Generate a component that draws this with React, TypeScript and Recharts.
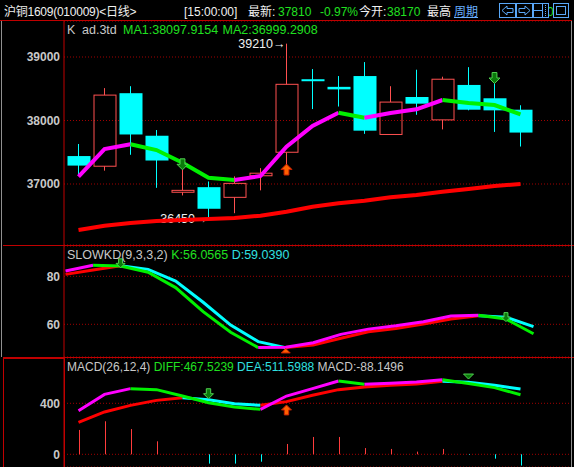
import React from 'react';
import { Bar, CartesianGrid, Cell, ComposedChart, Line, ReferenceDot, XAxis, YAxis } from 'recharts';

// 沪铜1609 daily bars
const open = [37440, 37280, 38430, 37760, 36870, 36950, 36790, 37130, 37500, 38650, 38530, 38700, 37780, 38370, 38010, 38560, 38350, 38170];
const close = [37290, 38400, 37780, 37370, 36900, 36610, 37010, 37170, 38570, 38630, 38490, 37840, 38290, 38265, 38650, 38170, 38160, 37810];
const high = [37630, 38510, 38540, 37850, 37230, 37040, 37120, 37250, 39210, 38810, 38700, 38920, 38540, 38800, 38690, 38840, 38610, 38240];
const low = [37150, 37210, 37460, 36940, 36820, 36450, 36540, 36900, 37300, 38180, 38220, 37790, 37780, 38090, 37860, 38160, 37820, 37590];

// moving averages
const ma1 = [37115, 37551, 37625, 37535, 37335, 37099, 37063, 37126, 37588, 37913, 38123, 38044, 38118, 38176, 38323, 38276, 38244, 38097.9154];
const ma2 = [36275, 36343, 36386, 36417, 36433, 36449, 36464, 36501, 36564, 36643, 36696, 36737, 36790, 36827, 36878, 36921, 36968, 36999.2908];

// SLOWKD(9,3,3,2)
const kLine = [82.2, 84.6, 84.3, 81.7, 75.3, 65.3, 56.7, 50.3, 50.4, 52.3, 55.8, 58.0, 59.4, 61.1, 63.5, 63.8, 62.2, 56.0565];
const dLine = [80.8, 82.6, 84.4, 82.9, 78.0, 69.2, 59.7, 52.8, 50.3, 51.4, 54.2, 56.9, 58.3, 60.1, 62.2, 63.6, 63.0, 59.039];

// MACD(26,12,4)
const diff = [342, 470, 515, 507, 457, 405, 371, 353, 457, 515, 575, 549, 557, 567, 585, 555, 523, 467.5239];
const dea = [251, 332, 384, 423, 444, 428, 397, 384, 413, 463, 507, 528, 541, 551, 572, 565, 541, 511.5988];
const macd = [191, 259, 198, 102, 0, -73, -73, -58, 81, 136, 136, 49, 42, 21, 42, -5, -34, -88.1496];

const priceTicks = [37000, 38000, 39000];
const kdTicks = [60, 80];
const macdTicks = [0, 400];

// period extremes marked on the price panel
const extremes = [
  { i: 5, side: 'low' },
  { i: 8, side: 'high' },
];

// trade signals: bar index, value, direction, mark
const priceSignals = [
  { i: 4, v: 37310, dir: 'down', kind: 'arrow' },
  { i: 8, v: 37228, dir: 'up', kind: 'arrow' },
  { i: 16, v: 38669, dir: 'down', kind: 'arrow' },
];
const kdSignals = [
  { i: 2, v: 85.4, dir: 'down', kind: 'arrow' },
  { i: 8, v: 49.0, dir: 'up', kind: 'tri' },
  { i: 16, v: 63.0, dir: 'down', kind: 'arrow' },
];
const macdSignals = [
  { i: 5, v: 475, dir: 'down', kind: 'arrow' },
  { i: 8, v: 348, dir: 'up', kind: 'arrow' },
  { i: 15, v: 610, dir: 'down', kind: 'tri' },
];

const FONT = "'Liberation Sans', 'Noto Sans CJK SC', sans-serif";
const FRAME = '#c00000';
const GRID = '#a00000';
const MAGENTA = '#ff00ff';
const GREEN = '#00f000';
const CYAN = '#00ffff';
const RED = '#ff0000';
const CANDLE_RED = '#ff5050';
const TEXT = '#c8c8c8';
const TXT_GREEN = '#20e020';
const TXT_CYAN = '#30e0e0';

type Run = { key: string; color: string };

// split a series into rising / falling runs so each run gets its own colour
function splitByTrend(rows: any[], name: string, values: number[], up: string, down: string): Run[] {
  const runs: Run[] = [];
  let start = 0;
  while (start < values.length - 1) {
    const rising = values[start + 1] >= values[start];
    let end = start + 1;
    while (end < values.length - 1 && (values[end + 1] >= values[end]) === rising) end++;
    const key = `${name}${runs.length}`;
    for (let j = start; j <= end; j++) rows[j][key] = values[j];
    runs.push({ key, color: rising ? up : down });
    start = end;
  }
  return runs;
}

const rows: any[] = open.map((o, i) => ({
  i,
  range: [low[i], high[i]],
  open: o,
  close: close[i],
  macd: macd[i],
  mark: extremes.find((e) => e.i === i)?.side,
}));

const ma1Runs = splitByTrend(rows, 'ma1_', ma1, MAGENTA, GREEN);
const ma2Runs = splitByTrend(rows, 'ma2_', ma2, RED, GREEN);
const kRuns = splitByTrend(rows, 'k_', kLine, MAGENTA, GREEN);
const dRuns = splitByTrend(rows, 'd_', dLine, RED, CYAN);
const diffRuns = splitByTrend(rows, 'diff_', diff, MAGENTA, GREEN);
const deaRuns = splitByTrend(rows, 'dea_', dea, RED, CYAN);

function Candle(props: any) {
  const { x, y, width, height, payload } = props;
  const [lo, hi] = payload.range;
  const k = hi === lo ? 0 : height / (hi - lo);
  const yOf = (p: number) => y + (hi - p) * k;
  const cx = Math.round(x + width / 2) - 0.5;
  const top = yOf(Math.max(payload.open, payload.close));
  const bot = yOf(Math.min(payload.open, payload.close));
  let label = null;
  if (payload.mark) {
    const v = payload.mark === 'high' ? hi : lo;
    label = (
      <text x={cx - 1} y={yOf(v)} dy="0.35em" textAnchor="end" fill="#f0f0f0" fontSize={12.5} fontFamily={FONT}>
        {`${v}→`}
      </text>
    );
  }
  if (payload.close >= payload.open) {
    return (
      <g>
        <line x1={cx} x2={cx} y1={y} y2={top} stroke={CANDLE_RED} />
        <line x1={cx} x2={cx} y1={bot} y2={y + height} stroke={CANDLE_RED} />
        <rect x={x + 0.5} y={top} width={width - 1} height={Math.max(bot - top, 1)} fill="none" stroke={CANDLE_RED} />
        {label}
      </g>
    );
  }
  const h = Math.max(bot - top, 2);
  return (
    <g>
      <line x1={cx} x2={cx} y1={y} y2={y + height} stroke={CYAN} />
      <rect x={x} y={top} width={width} height={h} fill={CYAN} />
      {label}
    </g>
  );
}

// 1px histogram stick, snapped to the pixel grid
function MacdStick(props: any) {
  const { x, y, width, height, fill } = props;
  if (!height) return <g />;
  const x0 = Math.round(x + width / 2 - 0.5);
  const top = Math.min(y, y + height);
  return <rect x={x0} y={top} width={1} height={Math.abs(height)} fill={fill} />;
}

function SignalMark({ cx, cy, dir, kind, size }: any) {
  const h = size / 2;
  const buy = dir === 'up';
  const fill = buy ? '#ff6000' : '#0a7a0a';
  const edge = buy ? '#c82000' : '#50d050';
  const sgn = buy ? -1 : 1;
  if (kind === 'tri') {
    const pts = [[cx - h, cy - sgn * h * 0.5], [cx + h, cy - sgn * h * 0.5], [cx, cy + sgn * h * 0.5]];
    return <polygon points={pts.map((p) => p.join(',')).join(' ')} fill={fill} stroke={edge} />;
  }
  const s = size * 0.22;
  const pts = [
    [cx - s, cy - sgn * h],
    [cx + s, cy - sgn * h],
    [cx + s, cy],
    [cx + h, cy],
    [cx, cy + sgn * h],
    [cx - h, cy],
    [cx - s, cy],
  ];
  return <polygon points={pts.map((p) => p.join(',')).join(' ')} fill={fill} stroke={edge} />;
}

function runLines(runs: Run[], width: number) {
  return runs.map((r) => (
    <Line
      key={r.key}
      dataKey={r.key}
      type="linear"
      stroke={r.color}
      strokeWidth={width}
      dot={false}
      activeDot={false}
      isAnimationActive={false}
    />
  ));
}

function signalDots(signals: any[], size: number) {
  return signals.map((s) => (
    <ReferenceDot
      key={`${s.i}-${s.dir}`}
      x={s.i}
      y={s.v}
      r={5}
      shape={(p: any) => <SignalMark cx={p.cx} cy={p.cy} dir={s.dir} kind={s.kind} size={size} />}
    />
  ));
}

const tickStyle = { fill: TEXT, fontSize: 12, fontWeight: 'bold', fontFamily: FONT };

function yAxis(domain: number[], ticks: number[]) {
  return (
    <YAxis
      width={64}
      domain={domain}
      allowDataOverflow
      ticks={ticks}
      interval={0}
      tickLine={false}
      tickSize={0}
      tickMargin={4}
      axisLine={{ stroke: FRAME }}
      tick={tickStyle}
    />
  );
}

const margin = { top: 0, right: 3, bottom: 0, left: 0 };
const xPad = { left: 1.5, right: 37.5 };

const abs = (left: number, top: number, extra: any = {}) => ({ position: 'absolute' as const, left, top, ...extra });

export default function App() {
  const head = { fontSize: 12, lineHeight: '18px', whiteSpace: 'pre' as const };
  const legend = { fontSize: 12.5, lineHeight: '15px', whiteSpace: 'pre' as const };
  return (
    <div style={{ position: 'absolute', left: 0, top: 0, width: 574, height: 467, background: '#000', overflow: 'hidden', fontFamily: FONT, color: '#f0f0f0' }}>
      {/* title bar */}
      <div style={abs(4, 3, { ...head, letterSpacing: '-0.25px' })}>沪铜1609(010009)&lt;日线&gt;</div>
      <div style={abs(184, 3, head)}>[15:00:00]</div>
      <div style={abs(248, 3, head)}>最新:</div>
      <div style={abs(278, 3, { ...head, color: TXT_GREEN })}>37810</div>
      <div style={abs(320, 3, { ...head, color: TXT_GREEN })}>-0.97%</div>
      <div style={abs(359, 3, head)}>今开:</div>
      <div style={abs(387, 3, { ...head, color: TXT_GREEN })}>38170</div>
      <div style={abs(427, 3, head)}>最高</div>
      <div style={abs(454, 3, { ...head, color: '#6ab0ff', textDecoration: 'underline' })}>周期</div>
      <div style={abs(547, 3, { ...head, color: TXT_GREEN })}>0</div>
      <svg style={abs(498, 2)} width={74} height={18}>
        <g fill="#000" stroke="#5aa8f8">
          <rect x={1.5} y={1.5} width={16} height={14} />
          <polygon points="4,8.5 9,4 9,6.5 15,6.5 15,10.5 9,10.5 9,13" />
          <rect x={18.5} y={1.5} width={16} height={14} />
          <polygon points="32,8.5 27,4 27,6.5 21,6.5 21,10.5 27,10.5 27,13" />
          <rect x={35.5} y={1.5} width={15} height={14} />
          <line x1={44.5} x2={44.5} y1={2} y2={15} />
          <line x1={36} x2={44.5} y1={8.5} y2={8.5} />
          <line x1={47.5} x2={47.5} y1={3} y2={14} strokeDasharray="1 1" />
          <rect x={55.5} y={1.5} width={15} height={14} />
          <rect x={58.5} y={4.5} width={9} height={8} />
        </g>
      </svg>

      {/* frame */}
      <div style={abs(0, 20, { width: 572, height: 1, background: FRAME })} />
      <div style={abs(3, 245, { width: 571, height: 1, background: FRAME })} />
      <div style={abs(3, 357, { width: 571, height: 1, background: FRAME })} />
      <div style={abs(1, 21, { width: 1, height: 336, background: '#909090' })} />
      <div style={abs(571, 21, { width: 1, height: 446, background: '#909090' })} />
      <div style={abs(3, 358, { width: 60, height: 120, border: `1px solid ${FRAME}` })} />

      {/* price panel */}
      <div style={abs(0, 21)}>
        <ComposedChart width={574} height={224} data={rows} margin={margin}>
          <CartesianGrid vertical={false} stroke={GRID} strokeDasharray="1 2" />
          <XAxis dataKey="i" type="category" hide padding={xPad} />
          {yAxis([36039.4, 39567], priceTicks)}
          <Bar dataKey="range" barSize={23} shape={Candle} isAnimationActive={false} />
          {runLines(ma2Runs, 4)}
          {runLines(ma1Runs, 4)}
          {signalDots(priceSignals, 11)}
        </ComposedChart>
      </div>
      <div style={abs(67, 23, { ...legend, color: TEXT })}>K</div>
      <div style={abs(82, 23, { ...legend, color: TEXT })}>ad.3td</div>
      <div style={abs(123, 23, { ...legend, color: TXT_GREEN })}>MA1:38097.9154</div>
      <div style={abs(222.5, 23, { ...legend, color: TXT_GREEN })}>MA2:36999.2908</div>

      {/* SLOWKD panel */}
      <div style={abs(0, 246)}>
        <ComposedChart width={574} height={111} data={rows} margin={margin}>
          <CartesianGrid vertical={false} stroke={GRID} strokeDasharray="1 2" />
          <XAxis dataKey="i" type="category" hide padding={xPad} />
          {yAxis([46.38, 92.63], kdTicks)}
          {signalDots(kdSignals.filter((s) => s.kind === 'tri'), 9)}
          {runLines(dRuns, 3)}
          {runLines(kRuns, 3)}
          {signalDots(kdSignals.filter((s) => s.kind !== 'tri'), 9)}
        </ComposedChart>
      </div>
      <div style={abs(67, 248, legend)}>
        <span style={{ color: TEXT }}>SLOWKD(9,3,3,2) </span>
        <span style={{ color: TXT_GREEN }}>K:56.0565 </span>
        <span style={{ color: TXT_CYAN }}>D:59.0390</span>
      </div>

      {/* MACD panel */}
      <div style={abs(0, 358)}>
        <ComposedChart width={574} height={109} data={rows} margin={margin}>
          <CartesianGrid vertical={false} stroke={GRID} strokeDasharray="1 2" />
          <XAxis dataKey="i" type="category" hide padding={xPad} />
          {yAxis([-99.6, 755.3], macdTicks)}
          <Bar dataKey="macd" barSize={1} shape={MacdStick} isAnimationActive={false}>
            {macd.map((v, i) => (
              <Cell key={i} fill={v >= 0 ? '#ff3c3c' : CYAN} />
            ))}
          </Bar>
          {runLines(deaRuns, 3)}
          {runLines(diffRuns, 3)}
          {signalDots(macdSignals, 10)}
        </ComposedChart>
      </div>
      <div style={abs(67, 359.5, { ...legend, fontSize: 12 })}>
        <span style={{ color: TEXT }}>MACD(26,12,4) </span>
        <span style={{ color: TXT_GREEN }}>DIFF:467.5239 </span>
        <span style={{ color: TXT_CYAN }}>DEA:511.5988 </span>
        <span style={{ color: TEXT }}>MACD:-88.1496</span>
      </div>
    </div>
  );
}
